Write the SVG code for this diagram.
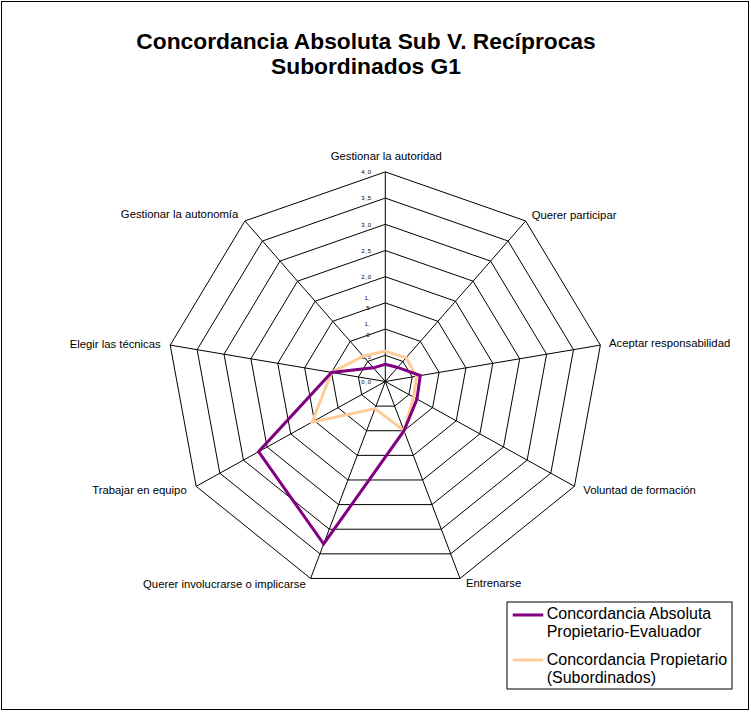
<svg xmlns="http://www.w3.org/2000/svg" width="751" height="712" viewBox="0 0 751 712">
  <style>
    text { font-family: "Liberation Sans", Arial, sans-serif; fill: #000; }
    .title { font-size: 22.8px; font-weight: bold; text-anchor: middle; }
    .axis { font-size: 11.3px; }
    .tick { font-size: 6px; text-anchor: end; letter-spacing: 0.8px; }
    .legend { font-size: 16px; }
    .grid { fill: none; stroke: #000; stroke-width: 1; }
    .series { fill: none; stroke-width: 3; stroke-linejoin: miter; }
    .s1 { stroke: #800080; }
    .s2 { stroke: #FFCC99; }
  </style>

  <rect x="1.5" y="1.5" width="747" height="708" fill="#fff" stroke="#000" stroke-width="1"/>

  <g id="title">
    <text class="title" x="366" y="48.5">Concordancia Absoluta Sub V. Recíprocas</text>
    <text class="title" x="366" y="73.5">Subordinados G1</text>
  </g>

  <!-- radar grid: nine axes, one ring per 0.5 step, centre at 385.3,381.5 -->
  <g id="grid">
    <polygon class="grid" points="385.3,355.3 402.85,361.43 412.19,376.95 408.94,394.6 394.64,406.12 375.96,406.12 361.66,394.6 358.42,376.95 367.75,361.43"/>
    <polygon class="grid" points="385.3,329.1 420.4,341.36 439.07,372.4 432.58,407.7 403.97,430.74 366.63,430.74 338.02,407.7 331.53,372.4 350.2,341.36"/>
    <polygon class="grid" points="385.3,302.9 437.94,321.29 465.96,367.86 456.23,420.8 413.31,455.36 357.29,455.36 314.37,420.8 304.65,367.86 332.66,321.29"/>
    <polygon class="grid" points="385.3,276.7 455.49,301.22 492.84,363.31 479.87,433.9 422.65,479.98 347.95,479.98 290.73,433.9 277.76,363.31 315.11,301.22"/>
    <polygon class="grid" points="385.3,250.5 473.04,281.16 519.73,358.76 503.51,447 431.99,504.6 338.62,504.6 267.09,447 250.88,358.76 297.56,281.16"/>
    <polygon class="grid" points="385.3,224.3 490.59,261.09 546.61,354.21 527.15,460.1 441.32,529.22 329.28,529.22 243.45,460.1 224,354.21 280.01,261.09"/>
    <polygon class="grid" points="385.3,198.1 508.14,241.02 573.5,349.66 550.79,473.2 450.66,553.84 319.94,553.84 219.81,473.2 197.11,349.66 262.46,241.02"/>
    <polygon class="grid" points="385.3,171.9 525.68,220.95 600.38,345.12 574.44,486.3 460,578.46 310.6,578.46 196.16,486.3 170.22,345.12 244.92,220.95"/>
    <path class="grid" d="M385.3,381.5 L385.3,171.9 M385.3,381.5 L525.68,220.95 M385.3,381.5 L600.38,345.12 M385.3,381.5 L574.44,486.3 M385.3,381.5 L460,578.46 M385.3,381.5 L310.6,578.46 M385.3,381.5 L196.16,486.3 M385.3,381.5 L170.22,345.12 M385.3,381.5 L244.92,220.95"/>
  </g>

  <g id="ticks">
    <text class="tick" x="372" y="174">4,0</text>
    <text class="tick" x="372" y="200">3,5</text>
    <text class="tick" x="372" y="226.5">3,0</text>
    <text class="tick" x="372" y="252.5">2,5</text>
    <text class="tick" x="372" y="279">2,0</text>
    <text class="tick" x="371" y="299.5">1,</text>
    <text class="tick" x="370.5" y="310">5</text>
    <text class="tick" x="371" y="326">1,</text>
    <text class="tick" x="370.5" y="336.5">0</text>
    <text class="tick" x="372" y="358.5">0,5</text>
    <text class="tick" x="372" y="383.5">0,0</text>
  </g>

  <g id="axis-labels">
    <text class="axis" x="386.3" y="159.5" text-anchor="middle">Gestionar la autoridad</text>
    <text class="axis" x="531.7" y="219.3">Querer participar</text>
    <text class="axis" x="609" y="347.3">Aceptar responsabilidad</text>
    <text class="axis" x="583.3" y="494.3">Voluntad de formación</text>
    <text class="axis" x="466" y="586.7">Entrenarse</text>
    <text class="axis" x="305.7" y="587.7" text-anchor="end">Querer involucrarse o implicarse</text>
    <text class="axis" x="186.7" y="494.3" text-anchor="end">Trabajar en equipo</text>
    <text class="axis" x="160.7" y="348.3" text-anchor="end">Elegir las técnicas</text>
    <text class="axis" x="238.3" y="217.7" text-anchor="end">Gestionar la autonomía</text>
  </g>

  <g id="series">
    <polygon id="series-subordinados" class="series s2" points="385.3,351.11 405.99,357.82 416.49,376.22 413.67,397.22 404,430.74 375.03,408.58 312.01,422.11 331.53,372.4 363.19,356.21"/>
    <polygon id="series-absoluta" class="series s1" points="385.3,364.21 397.58,367.45 420.25,375.59 416.98,399.05 404,430.74 323.68,543.99 258.58,451.72 331.53,372.4 373.37,367.85"/>
  </g>

  <g id="legend">
    <rect x="507" y="602" width="225" height="87" fill="#fff" stroke="#000" stroke-width="1"/>
    <line x1="512.7" y1="615" x2="543.3" y2="615" stroke="#800080" stroke-width="3"/>
    <text class="legend" x="546.7" y="619.3">Concordancia Absoluta</text>
    <text class="legend" x="546.7" y="636.7">Propietario-Evaluador</text>
    <line x1="512.7" y1="660" x2="543.3" y2="660" stroke="#FFCC99" stroke-width="3"/>
    <text class="legend" x="546.7" y="665">Concordancia Propietario</text>
    <text class="legend" x="546.7" y="682.7">(Subordinados)</text>
  </g>
</svg>
